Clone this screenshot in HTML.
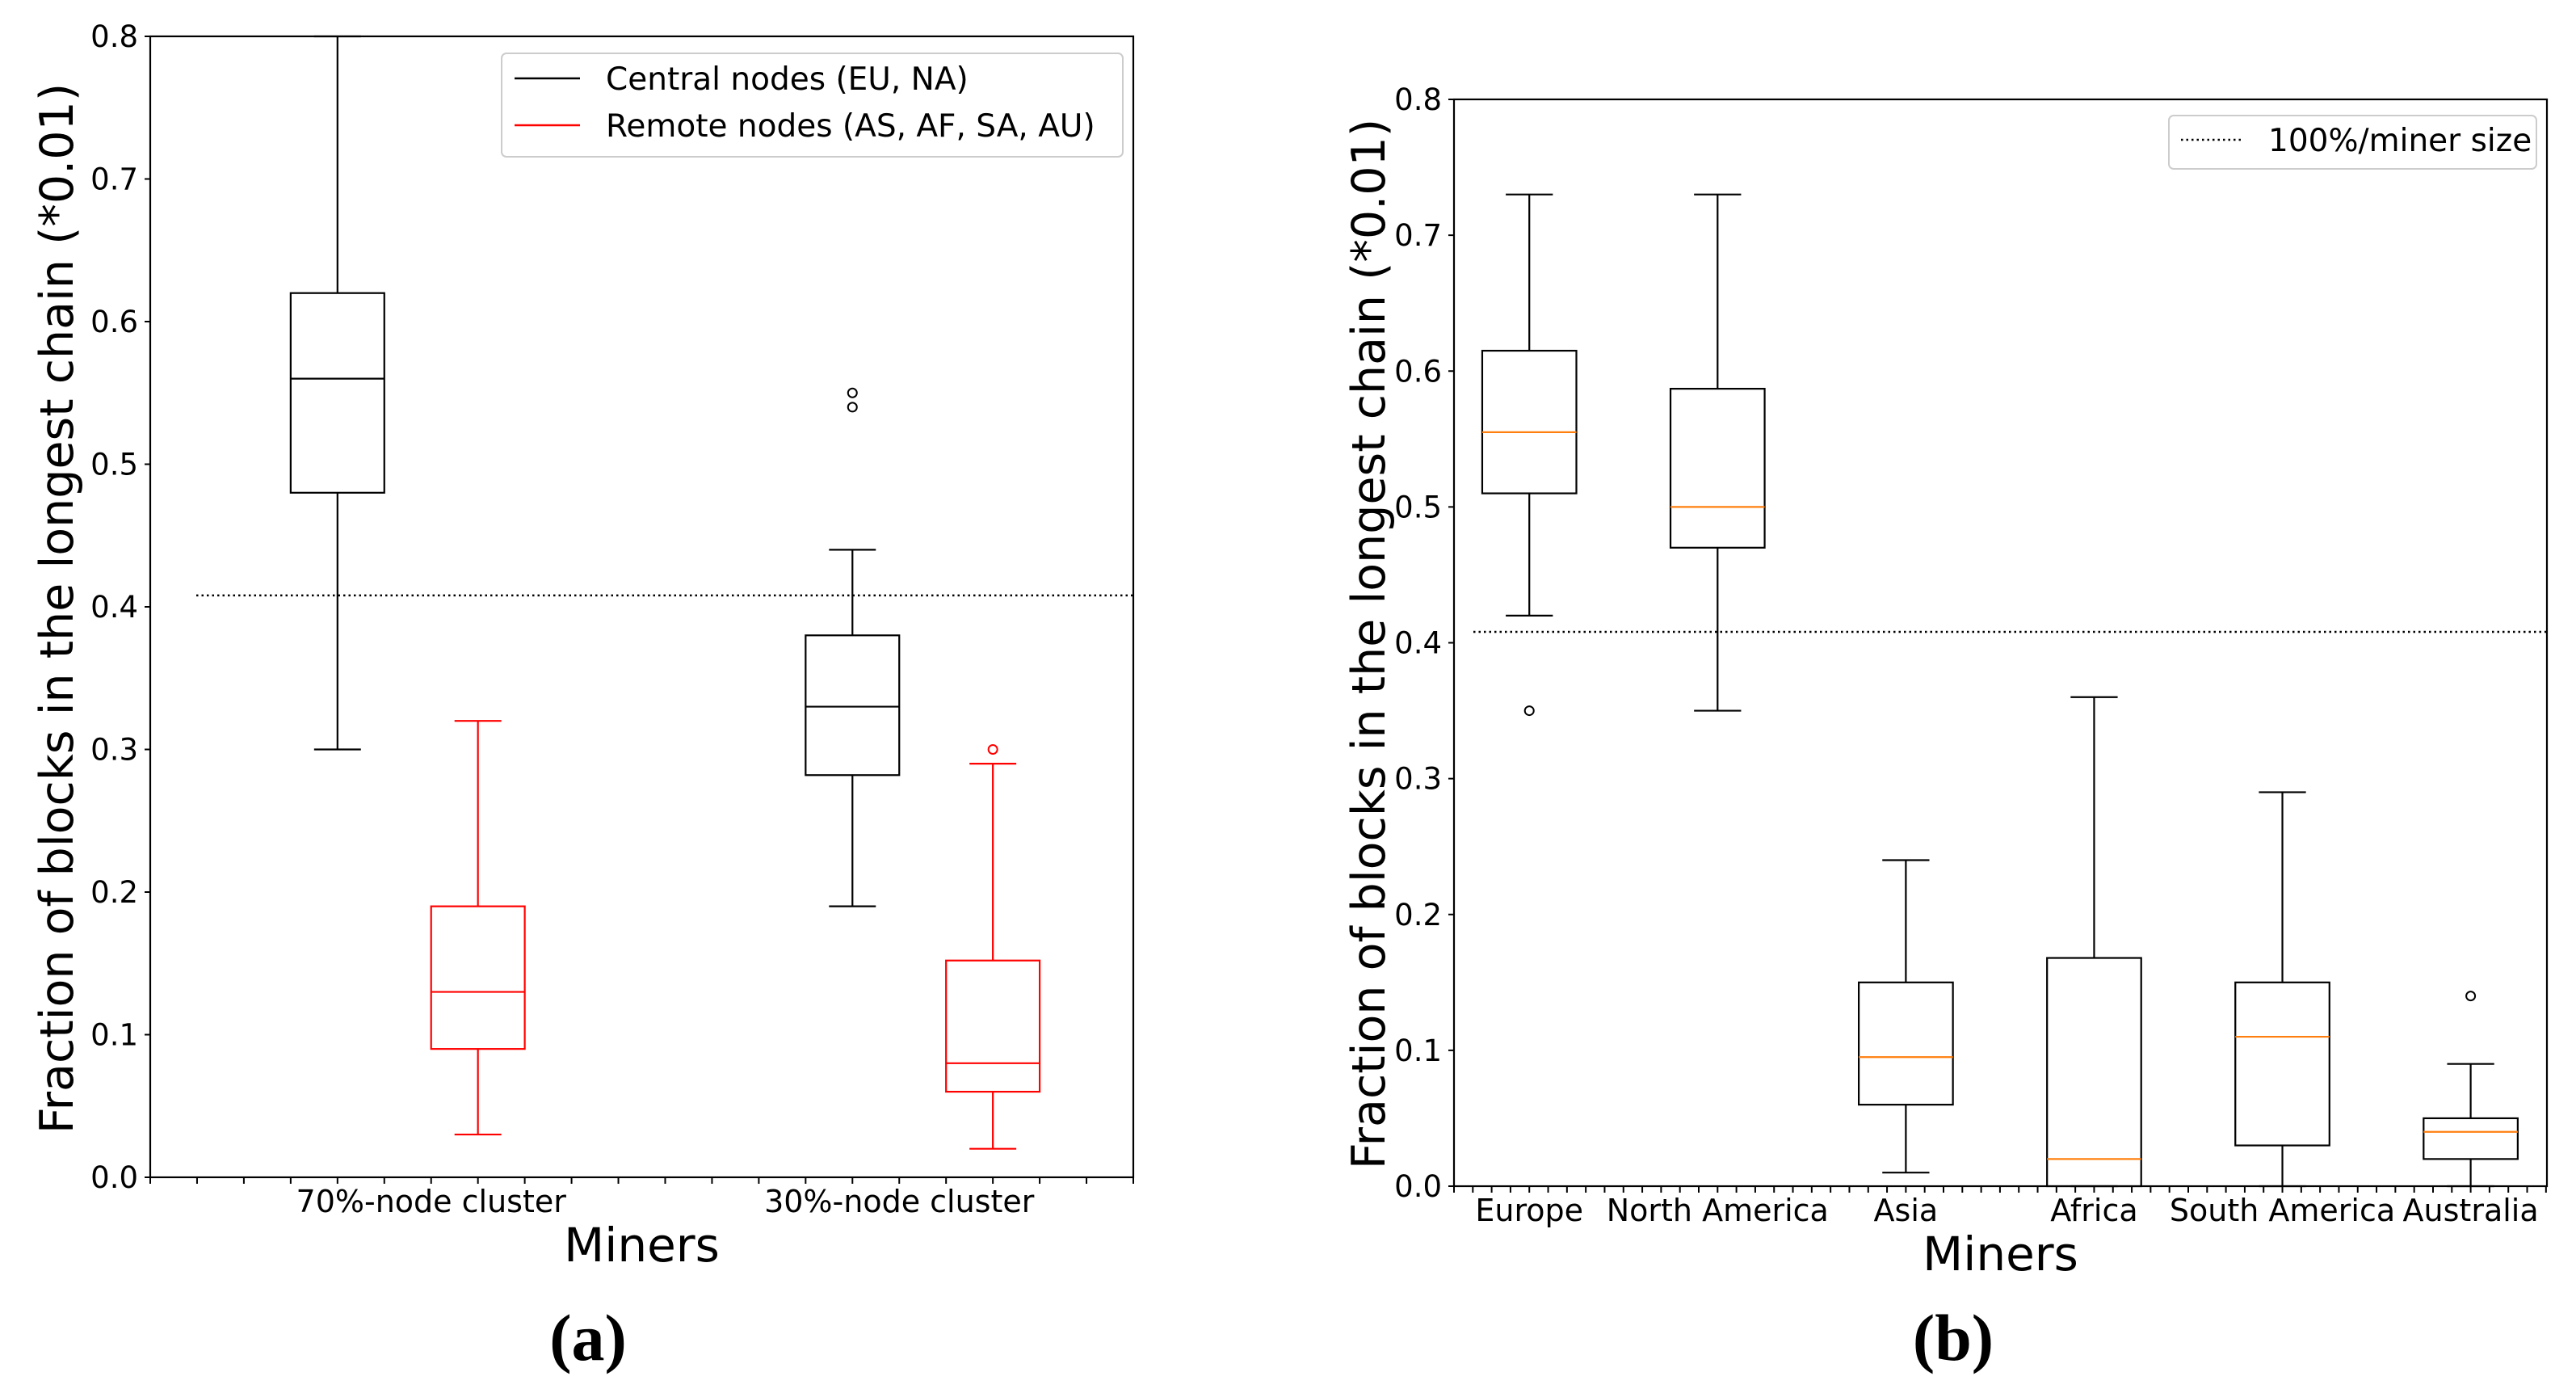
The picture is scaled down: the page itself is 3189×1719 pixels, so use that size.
<!DOCTYPE html>
<html><head><meta charset="utf-8"><style>
html,body{margin:0;padding:0;background:#fff;}
svg{display:block;font-family:"DejaVu Sans","Liberation Sans",sans-serif;}
</style></head><body>
<svg id="chart" width="3189" height="1719" viewBox="0 0 3189 1719" xmlns="http://www.w3.org/2000/svg">
<rect x="0" y="0" width="3189" height="1719" fill="#fff"/>
<g id="pa"></g>
<g id="pb"></g>
</svg>
<script>
// ---- Panel A data ----
const aCategories = ["70%-node cluster", "30%-node cluster"];
const aLabelPos = [6, 16];
const aPositions = [4, 7, 15, 18];
const aColors = ["#000", "#f00", "#000", "#f00"];
const aHigh = [0.80, 0.32, 0.44, 0.29];
const aQ3 = [0.62, 0.19, 0.38, 0.152];
const aMed = [0.56, 0.13, 0.33, 0.08];
const aQ1 = [0.48, 0.09, 0.282, 0.06];
const aLow = [0.30, 0.03, 0.19, 0.02];
const aOutliers = [[], [], [0.54, 0.55], [0.30]];
const aRefLine = 0.408;
const aLegend = ["Central nodes (EU, NA)", "Remote nodes (AS, AF, SA, AU)"];
const yTicks = [0.0, 0.1, 0.2, 0.3, 0.4, 0.5, 0.6, 0.7, 0.8];

// ---- Panel B data ----
const bCategories = ["Europe", "North America", "Asia", "Africa", "South America", "Australia"];
const bPositions = [4, 14, 24, 34, 44, 54];
const bHigh = [0.73, 0.73, 0.24, 0.36, 0.29, 0.09];
const bQ3 = [0.615, 0.587, 0.15, 0.168, 0.15, 0.05];
const bMed = [0.555, 0.50, 0.095, 0.02, 0.11, 0.04];
const bQ1 = [0.51, 0.47, 0.06, 0.0, 0.03, 0.02];
const bLow = [0.42, 0.35, 0.01, 0.0, 0.0, 0.0];
const bOutliers = [[0.35], [], [], [], [], [0.14]];
const bRefLine = 0.408;
const bLegend = ["100%/miner size"];

const NS = "http://www.w3.org/2000/svg";
function mk(parent, tag, attrs, text) {
  const e = document.createElementNS(NS, tag);
  for (const k in attrs) e.setAttribute(k, attrs[k]);
  if (text !== undefined) e.textContent = text;
  parent.appendChild(e);
  return e;
}

function drawPanel(g, cfg) {
  const L = cfg.left, R = cfg.right, T = cfg.top, B = cfg.bottom;
  const xs = v => L + (v / cfg.xMax) * (R - L);
  const ys = v => B - (v / 0.8) * (B - T);
  const ref = mk(g, "line", {x1: cfg.refStart, x2: R, y1: ys(cfg.ref), y2: ys(cfg.ref), stroke: "#000", "stroke-width": 2.5, "stroke-dasharray": "2.5,4"});
  
  
  for (let i = 0; i < cfg.pos.length; i++) {
    const bx = mk(g, "g", {});
    
    
    const c = cfg.colors[i], cx = xs(cfg.pos[i]);
    const hw = cfg.boxW / 2 * (R - L) / cfg.xMax, cw = cfg.capW / 2 * (R - L) / cfg.xMax;
    const sw = 2.2;
    mk(bx, "line", {x1: cx, x2: cx, y1: ys(cfg.high[i]), y2: ys(cfg.q3[i]), stroke: c, "stroke-width": sw});
    mk(bx, "line", {x1: cx, x2: cx, y1: ys(cfg.q1[i]), y2: ys(cfg.low[i]), stroke: c, "stroke-width": sw});
    mk(bx, "line", {x1: cx - cw, x2: cx + cw, y1: ys(cfg.high[i]), y2: ys(cfg.high[i]), stroke: c, "stroke-width": sw});
    mk(bx, "line", {x1: cx - cw, x2: cx + cw, y1: ys(cfg.low[i]), y2: ys(cfg.low[i]), stroke: c, "stroke-width": sw});
    mk(bx, "rect", {x: cx - hw, y: ys(cfg.q3[i]), width: 2 * hw, height: ys(cfg.q1[i]) - ys(cfg.q3[i]), fill: "none", stroke: c, "stroke-width": sw});
    mk(bx, "line", {x1: cx - hw, x2: cx + hw, y1: ys(cfg.med[i]), y2: ys(cfg.med[i]), stroke: cfg.medColor || c, "stroke-width": sw});
    for (const o of cfg.outliers[i]) mk(bx, "circle", {cx: cx, cy: ys(o), r: 5.5, fill: "none", stroke: c, "stroke-width": 2});
  }
  const fr = mk(g, "rect", {x: L, y: T, width: R - L, height: B - T, fill: "none", stroke: "#000", "stroke-width": 2.2});
  
  
  for (const t of yTicks) {
    mk(g, "line", {x1: L - 7, x2: L, y1: ys(t), y2: ys(t), stroke: "#000", "stroke-width": 2});
    const tl = mk(g, "text", {x: L - 15, y: ys(t) + 13, "text-anchor": "end", "font-size": 37}, t.toFixed(1));
    
    
  }
  for (let k = 0; k <= Math.floor(cfg.xMax); k++) {
    mk(g, "line", {x1: xs(k), x2: xs(k), y1: B, y2: B + 8, stroke: "#000", "stroke-width": 2});
  }
  for (let i = 0; i < cfg.cats.length; i++) {
    const xl = mk(g, "text", {x: xs(cfg.labelPos[i]), y: B + 43, "text-anchor": "middle", "font-size": 38}, cfg.cats[i]);
    
    
  }
  const xt = mk(g, "text", {x: (L + R) / 2 + cfg.minersDx, y: B + 104, "text-anchor": "middle", "font-size": 58}, "Miners");
  
  
  const yt = mk(g, "text", {x: 0, y: 0, "text-anchor": "middle", "font-size": 57, transform: "translate(" + cfg.ytX + "," + cfg.ytY + ") rotate(-90)"}, "Fraction of blocks in the longest chain (*0.01)");
  
  
  const pl = mk(g, "text", {x: cfg.capX, y: 1683, "text-anchor": "middle", "font-size": 82, "font-weight": "bold", "font-family": "Liberation Serif, serif"}, cfg.cap);
  
  
}

const ga = document.getElementById("pa");
drawPanel(ga, {left: 186, right: 1403, top: 45, bottom: 1457, xMax: 21.0, pos: aPositions, colors: aColors,
  high: aHigh, q3: aQ3, med: aMed, q1: aQ1, low: aLow, outliers: aOutliers, ref: aRefLine, refStart: 243,
  boxW: 2, capW: 1, cats: aCategories, labelPos: aLabelPos, minersDx: 0, ytX: 90, ytY: 753, capX: 728, cap: "(a)"});
const lga = mk(ga, "g", {});


mk(lga, "rect", {x: 621, y: 66, width: 769, height: 128, rx: 6, fill: "#fff", stroke: "#ccc", "stroke-width": 2});
const legColors = ["#000", "#f00"];
for (let i = 0; i < aLegend.length; i++) {
  const y = 97 + i * 58;
  mk(lga, "line", {x1: 637, x2: 718, y1: y, y2: y, stroke: legColors[i], "stroke-width": 2.5});
  const lt = mk(lga, "text", {x: 750, y: y + 14, "font-size": 39}, aLegend[i]);
  
  
}

const gb = document.getElementById("pb");
drawPanel(gb, {left: 1800, right: 3153, top: 123, bottom: 1468, xMax: 58.05, pos: bPositions, colors: bPositions.map(() => "#000"),
  medColor: "#ff7f0e", high: bHigh, q3: bQ3, med: bMed, q1: bQ1, low: bLow, outliers: bOutliers, ref: bRefLine, refStart: 1824,
  boxW: 5, capW: 2.5, cats: bCategories, labelPos: bPositions, minersDx: 0, ytX: 1714, ytY: 797, capX: 2418, cap: "(b)"});
const lgb = mk(gb, "g", {});


mk(lgb, "rect", {x: 2685, y: 143, width: 455, height: 66, rx: 6, fill: "#fff", stroke: "#ccc", "stroke-width": 2});
mk(lgb, "line", {x1: 2700, x2: 2776, y1: 173, y2: 173, stroke: "#000", "stroke-width": 2.5, "stroke-dasharray": "2.5,4"});
const lbt = mk(lgb, "text", {x: 2808, y: 187, "font-size": 39}, bLegend[0]);


</script>
</body></html>
